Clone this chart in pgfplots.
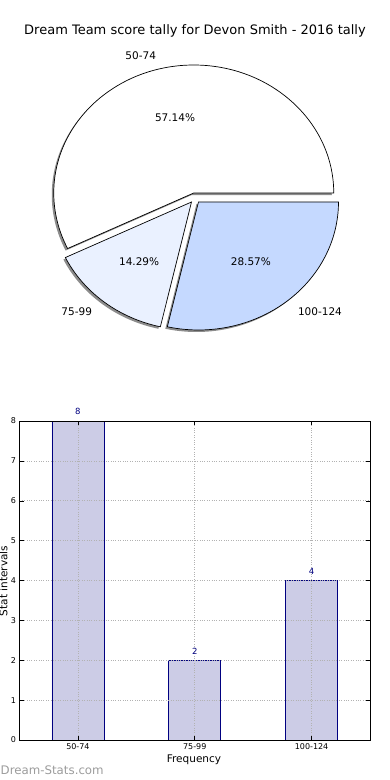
\documentclass[border=0pt]{standalone}
\usepackage{pgfplots}
\pgfplotsset{compat=1.18}
\usepackage{fontspec}
\setmainfont{DejaVu Sans}
\definecolor{pieB}{HTML}{EAF1FF}
\definecolor{pieC}{HTML}{C5D9FF}
\definecolor{barfill}{HTML}{CCCCE6}
\definecolor{navyc}{HTML}{000080}
\definecolor{wm}{HTML}{9C9C9C}
% #1 style, #2 start angle, #3 end angle, #4 dx, #5 dy (axis units)
\newcommand\pieslice[5]{%
  \path[#1] (axis cs:{\ex*cos((#2+#3)/2)+#4},{\ex*sin((#2+#3)/2)+#5})
    -- (axis cs:{\ex*cos((#2+#3)/2)+#4+cos(#2)},{\ex*sin((#2+#3)/2)+#5+sin(#2)})
    arc[start angle=#2,end angle=#3,x radius=140pt,y radius=128pt] -- cycle;}
\begin{document}
\begin{tikzpicture}[x=1pt,y=1pt]
\path[use as bounding box] (0,0) rectangle (390,780);
% data: counts per interval
\pgfmathsetmacro\vA{8}
\pgfmathsetmacro\vB{2}
\pgfmathsetmacro\vC{4}
\pgfmathsetmacro\tot{\vA+\vB+\vC}
\pgfmathsetmacro\aB{360*\vA/\tot}
\pgfmathsetmacro\aC{\aB+360*\vB/\tot}
\pgfmathsetmacro\mA{\aB/2}
\pgfmathsetmacro\mB{(\aB+\aC)/2}
\pgfmathsetmacro\mC{(\aC+360)/2}
\def\ex{0.04}
\node[anchor=base] at (195,745.5) {\fontsize{13}{15}\selectfont Dream Team score tally for Devon Smith - 2016 tally};
\begin{axis}[hide axis, x=140pt, y=128pt, xmin=-1.5, xmax=1.5, ymin=-1.5, ymax=1.5,
  anchor=center, at={(195pt,582pt)}, clip=false]
\pieslice{fill=black!45}{0}{\aB}{-2/140}{-2/128}
\pieslice{fill=black!45}{\aB}{\aC}{-2/140}{-2/128}
\pieslice{fill=black!45}{\aC}{360}{-2/140}{-2/128}
\pieslice{fill=white, draw=black, line width=0.7pt}{0}{\aB}{0}{0}
\pieslice{fill=pieB, draw=black, line width=0.7pt}{\aB}{\aC}{0}{0}
\pieslice{fill=pieC, draw=black, line width=0.7pt}{\aC}{360}{0}{0}
\node[anchor=east, font=\fontsize{10.5}{12}\selectfont] at (axis cs:{1.14*cos(\mA)},{1.14*sin(\mA)}) {50-74};
\node[anchor=east, font=\fontsize{10.5}{12}\selectfont] at (axis cs:{1.14*cos(\mB)},{1.14*sin(\mB)}) {75-99};
\node[anchor=west, font=\fontsize{10.5}{12}\selectfont] at (axis cs:{1.14*cos(\mC)},{1.14*sin(\mC)}) {100-124};
\node[font=\fontsize{10.5}{12}\selectfont] at (axis cs:{0.64*cos(\mA)},{0.64*sin(\mA)}) {57.14\%};
\node[font=\fontsize{10.5}{12}\selectfont] at (axis cs:{0.64*cos(\mB)},{0.64*sin(\mB)}) {14.29\%};
\node[font=\fontsize{10.5}{12}\selectfont] at (axis cs:{0.64*cos(\mC)},{0.64*sin(\mC)}) {28.57\%};
\end{axis}
\begin{axis}[scale only axis, width=350.5pt, height=319pt, at={(19.5pt,40pt)}, anchor=south west,
  xmin=-0.5, xmax=2.5, ymin=0, ymax=8,
  xtick={0,1,2}, xticklabels={50-74,75-99,100-124}, ytick={0,1,...,8},
  /pgf/number format/assume math mode=true,
  tick align=inside, major tick length=4pt, tick style={black, line width=0.5pt},
  grid=major, major grid style={dotted, black!30, line width=0.7pt},
  tick label style={font=\fontsize{8}{9}\selectfont},
  axis line style={line width=0.8pt}, axis on top, clip=false]
\addplot[ybar, bar width=52pt, fill=barfill, draw=navyc, line width=0.8pt,
  nodes near coords, every node near coord/.append style={font=\fontsize{8.5}{10}\selectfont, text=navyc, yshift=2.5pt}]
  coordinates {(0,8) (1,2) (2,4)};
\end{axis}
\node[font=\fontsize{10.5}{12}\selectfont] at (194,20) {Frequency};
\node[rotate=90, anchor=base, font=\fontsize{10.5}{12}\selectfont] at (7.5,199) {Stat intervals};
\node[anchor=base west, inner sep=0pt, text=wm, font=\fontsize{11.8}{14}\selectfont] at (0.5,5.5) {Dream-Stats.com};
\end{tikzpicture}
\end{document}
